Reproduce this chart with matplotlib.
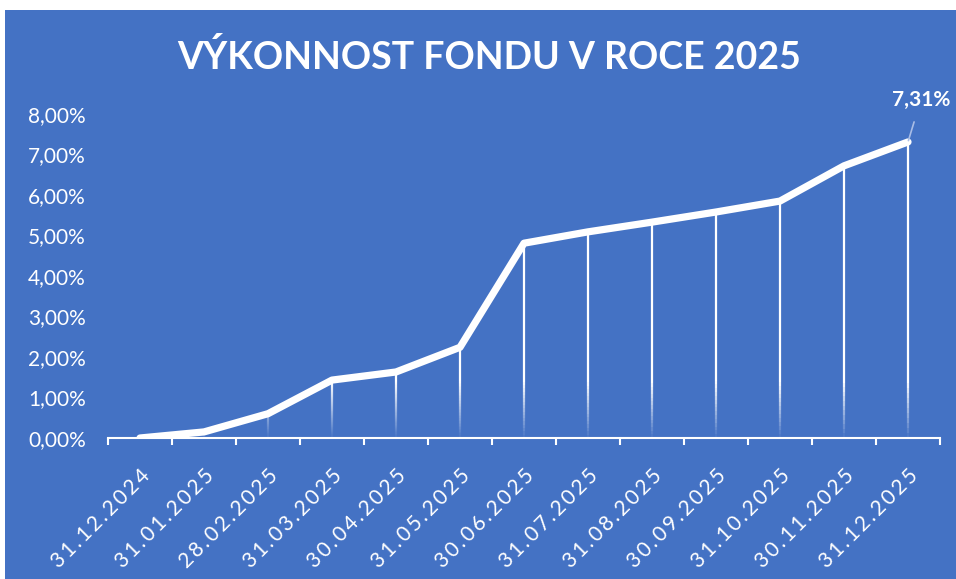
import numpy as np
import matplotlib
matplotlib.use('Agg')
import matplotlib.pyplot as plt
from matplotlib.patches import Rectangle
from matplotlib.collections import LineCollection

plt.rcParams['font.family'] = ['Lato', 'DejaVu Sans']

dates = ['31.12.2024', '31.01.2025', '28.02.2025', '31.03.2025', '30.04.2025',
         '31.05.2025', '30.06.2025', '31.07.2025', '31.08.2025', '30.09.2025',
         '31.10.2025', '30.11.2025', '31.12.2025']
performance = [0.00, 0.15, 0.60, 1.43, 1.63, 2.24, 4.81, 5.09, 5.33, 5.58, 5.85, 6.72, 7.31]
y_ticks = [0, 1, 2, 3, 4, 5, 6, 7, 8]

BLUE = '#4472C4'

fig = plt.figure(figsize=(9.56, 5.79), dpi=100, facecolor='white')
fig.add_artist(Rectangle((5 / 956, 0), 1, 1 - 10 / 579, transform=fig.transFigure,
                         facecolor=BLUE, edgecolor='none', zorder=-5))

ax = fig.add_axes([108 / 956, 1 - 438 / 579, 832 / 956, 324 / 579])
ax.set_facecolor('none')
ax.set_zorder(2)

x = np.arange(len(dates))

# drop lines fading towards the axis
for xi, v in zip(x, performance):
    if v <= 0:
        continue
    ys = np.linspace(0, v, 60)
    segs = [[(xi, ys[i]), (xi, ys[i + 1])] for i in range(len(ys) - 1)]
    mids = (ys[:-1] + ys[1:]) / 2
    alpha = np.clip(mids / 1.4, 0.05, 1.0)
    cols = [(1, 1, 1, a) for a in alpha]
    ax.add_collection(LineCollection(segs, colors=cols, linewidths=1.6, zorder=2))

ax.plot(x, performance, color='white', linewidth=5.2, solid_joinstyle='round',
        solid_capstyle='round', zorder=3)

ax.annotate('7,31%', xy=(x[-1], performance[-1]), xytext=(x[-1] + 0.2, 8.35),
            color='white', fontsize=15, fontweight='bold', ha='center', va='center',
            arrowprops=dict(arrowstyle='-', color='#a9bde6', lw=1.2, shrinkA=7, shrinkB=1),
            annotation_clip=False, zorder=4)

ax.set_xlim(-0.5, len(dates) - 0.5)
ax.set_ylim(0, 8)
ax.set_yticks(y_ticks)
ax.set_yticklabels([f'{t},00%' for t in y_ticks])

ax.set_xticks(x)
ax.set_xticklabels(['\u2009'.join(d) for d in dates], rotation=45, ha='right',
                   rotation_mode='anchor')
ax.set_xticks(np.arange(len(dates) + 1) - 0.5, minor=True)

ax.tick_params(axis='y', length=0, pad=16, labelcolor='white', labelsize=15)
ax.tick_params(axis='x', which='major', length=0, pad=20, labelcolor='white', labelsize=15)
ax.tick_params(axis='x', which='minor', length=5, width=1.5, color='white', direction='out')

for s in ['top', 'right', 'left']:
    ax.spines[s].set_visible(False)
ax.spines['bottom'].set_color('white')
ax.spines['bottom'].set_linewidth(1.5)

fig.text(489 / 956, 1 - 57 / 579, 'VÝKONNOST FONDU V ROCE 2025', color='white',
         fontsize=27, fontweight='bold', ha='center', va='center')

fig.savefig('out.png', dpi=100, facecolor='white')
